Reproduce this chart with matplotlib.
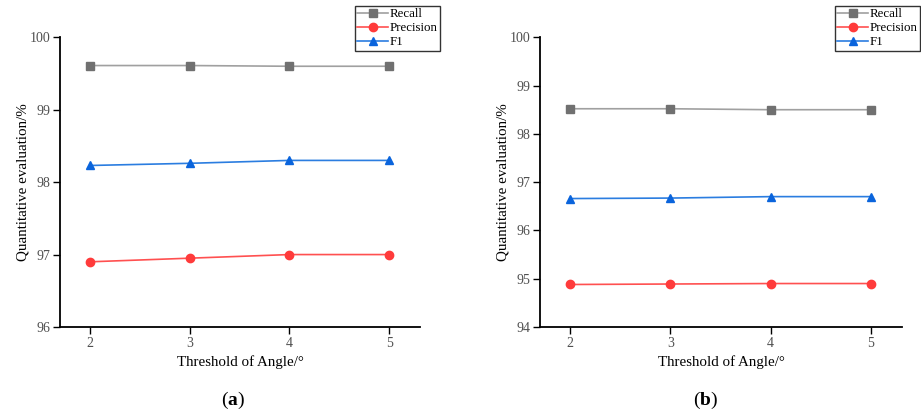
import matplotlib.pyplot as plt

plt.rcParams['font.family'] = ['Liberation Serif', 'DejaVu Serif']

# ---------------- DATA ----------------
thresholds = [2, 3, 4, 5]

recall_a = [99.61, 99.61, 99.60, 99.60]
precision_a = [96.90, 96.95, 97.00, 97.00]
f1_a = [98.23, 98.26, 98.30, 98.30]

recall_b = [98.52, 98.52, 98.50, 98.50]
precision_b = [94.88, 94.89, 94.90, 94.90]
f1_b = [96.66, 96.67, 96.70, 96.70]

panels = [
    ("a", recall_a, precision_a, f1_a, (96, 100), [96, 97, 98, 99, 100]),
    ("b", recall_b, precision_b, f1_b, (94, 100), [94, 95, 96, 97, 98, 99, 100]),
]

# ---------------- FIGURE ----------------
fig = plt.figure(figsize=(9.21, 4.19), dpi=100)
ax_pos = [[0.0651, 0.2196, 0.391, 0.6914], [0.5863, 0.2196, 0.393, 0.6914]]
legend_anchor = [(0.478, 0.986), (0.999, 0.986)]
label_x = [0.247, 0.760]

for i, (tag, rec, pre, f1, ylim, yticks) in enumerate(panels):
    ax = fig.add_axes(ax_pos[i])
    ax.plot(thresholds, rec, color='#a0a0a0', lw=1.2, marker='s', ms=5.5,
            mfc='#707070', mec='#707070', label='Recall')
    ax.plot(thresholds, pre, color='#ff5050', lw=1.2, marker='o', ms=6,
            mfc='#ff3b3b', mec='#ff3b3b', label='Precision')
    ax.plot(thresholds, f1, color='#2b7de0', lw=1.2, marker='^', ms=6,
            mfc='#0a64dc', mec='#0a64dc', label='F1')

    ax.set_xlim(1.7, 5.31)
    ax.set_ylim(*ylim)
    ax.set_xticks(thresholds)
    ax.set_yticks(yticks)
    ax.spines['top'].set_visible(False)
    ax.spines['right'].set_visible(False)
    ax.spines['left'].set_linewidth(1.3)
    ax.spines['bottom'].set_linewidth(1.3)
    ax.tick_params(labelsize=10, labelcolor='#505050', length=5, width=1, pad=2)
    ax.set_xlabel("Threshold of Angle/°", fontsize=10.8, labelpad=4)
    ax.set_ylabel("Quantitative evaluation/%", fontsize=10.8, labelpad=0)

    leg = ax.legend(loc='upper right', bbox_to_anchor=legend_anchor[i],
                    bbox_transform=fig.transFigure, fontsize=9.3,
                    frameon=True, fancybox=False, edgecolor='black',
                    borderpad=0.2, labelspacing=0.15, handlelength=2.4,
                    handletextpad=0.1, borderaxespad=0)
    leg.get_frame().set_linewidth(1.0)

    fig.text(label_x[i], 0.045, "(", fontsize=14, ha='right', va='center')
    fig.text(label_x[i], 0.045, tag, fontsize=14, fontweight='bold',
             ha='left', va='center')
    fig.text(label_x[i] + 0.011, 0.045, ")", fontsize=14, ha='left', va='center')

fig.savefig("out.png", dpi=100)
